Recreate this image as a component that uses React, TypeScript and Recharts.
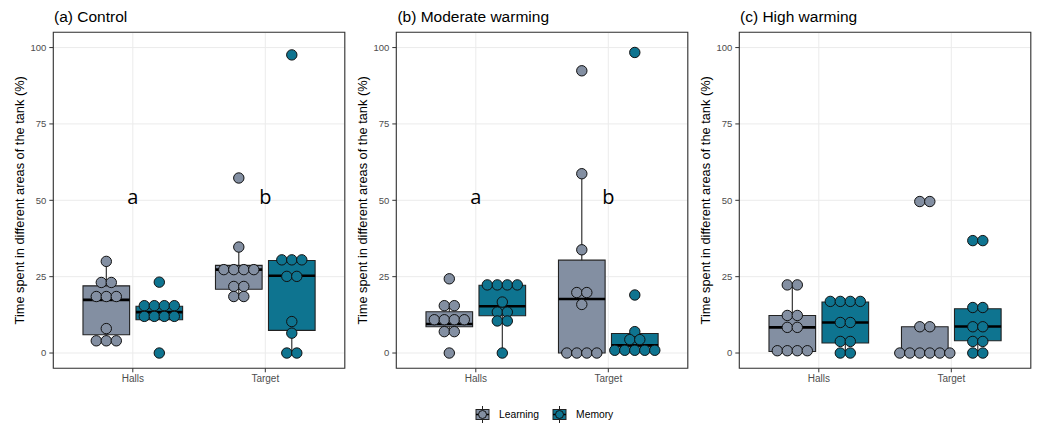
import React from "react";
import {
  ComposedChart,
  Scatter,
  XAxis,
  YAxis,
  CartesianGrid,
  ReferenceArea,
  ReferenceLine,
  ReferenceDot,
} from "recharts";

const categories = ["Halls", "Target"];
const groups = ["Learning", "Memory"];
const panelTitles = ["(a) Control", "(b) Moderate warming", "(c) High warming"];
const yTicks = [0, 25, 50, 75, 100];
const groupColors = ["#838fa2", "#0e7490"];
const yLabel = "Time spent in different areas of the tank (%)";

// individual fish
const controlHallsLearning = [30, 23.1, 23.1, 18.5, 18.5, 18.5, 8, 4, 4, 4];
const controlHallsMemory = [23.2, 15.5, 15.5, 15.5, 15.5, 12, 12, 12, 12, 0];
const controlTargetLearning = [57.3, 34.7, 27.3, 27.3, 27.3, 27.3, 21.8, 21.8, 18.5, 18.5];
const controlTargetMemory = [97.6, 30.5, 30.5, 30.5, 25.1, 25.1, 10.3, 6.5, 0, 0];

const moderateHallsLearning = [24.3, 15.5, 15.5, 10.9, 10.9, 10.9, 10.9, 7, 7, 0];
const moderateHallsMemory = [22.3, 22.3, 22.3, 22.3, 16.7, 13.4, 13.4, 10.5, 10.5, 0];
const moderateTargetLearning = [92.4, 58.7, 33.8, 19.8, 19.8, 15.9, 0, 0, 0, 0];
const moderateTargetMemory = [98.4, 19, 7, 4.4, 4.4, 0.9, 0.9, 0.9, 0.9, 0.9];

const highHallsLearning = [22.3, 22.3, 12.3, 12.3, 8.4, 8.4, 0.75, 0.75, 0.75, 0.75];
const highHallsMemory = [16.9, 16.9, 16.9, 16.9, 10, 10, 3.8, 3.8, 0, 0];
const highTargetLearning = [49.6, 49.6, 8.6, 8.6, 0, 0, 0, 0, 0, 0];
const highTargetMemory = [36.8, 36.8, 14.9, 14.9, 8.6, 8.6, 3.8, 3.8, 0, 0];

// boxes: [lower whisker, q1, median, q3, upper whisker]
const controlHallsLearningBox = [4, 6, 17.4, 22, 30];
const controlHallsMemoryBox = [10.9, 10.9, 13.4, 15.3, 15.3];
const controlTargetLearningBox = [18.5, 20.9, 27.3, 28.7, 34.7];
const controlTargetMemoryBox = [0, 7.4, 25.3, 30.3, 30.5];

const moderateHallsLearningBox = [7, 8.6, 9.5, 13.5, 15.5];
const moderateHallsMemoryBox = [0, 12.2, 15.3, 22.2, 22.3];
const moderateTargetLearningBox = [0, 0, 17.7, 30.4, 58.7];
const moderateTargetMemoryBox = [0.9, 2.2, 2.5, 6.4, 7];

const highHallsLearningBox = [0.5, 0.5, 8.4, 12.3, 22.3];
const highHallsMemoryBox = [0, 3.3, 10, 16.7, 16.9];
const highTargetLearningBox = [0, 0, 0, 8.6, 8.6];
const highTargetMemoryBox = [0, 4, 8.7, 14.5, 14.9];

// significance letters per panel (Halls, Target)
const panelLetters = [["a", "b"], ["a", "b"], []];
const letterLevel = 51;

// panel -> group -> category
const panelDots = [
  [[controlHallsLearning, controlTargetLearning], [controlHallsMemory, controlTargetMemory]],
  [[moderateHallsLearning, moderateTargetLearning], [moderateHallsMemory, moderateTargetMemory]],
  [[highHallsLearning, highTargetLearning], [highHallsMemory, highTargetMemory]],
];
const panelBoxes = [
  [[controlHallsLearningBox, controlTargetLearningBox], [controlHallsMemoryBox, controlTargetMemoryBox]],
  [[moderateHallsLearningBox, moderateTargetLearningBox], [moderateHallsMemoryBox, moderateTargetMemoryBox]],
  [[highHallsLearningBox, highTargetLearningBox], [highHallsMemoryBox, highTargetMemoryBox]],
];

const DODGE = [-0.2, 0.2];
const HALF_BOX = 0.176;
const DOT_STEP = 0.0755;
const PANEL_LEFT = [0, 343.4, 686];
const FONT = "'Liberation Sans', Arial, sans-serif";

// centred dot-plot stacking of equal values
function stackDots(values: number[], center: number) {
  const counts = new Map<number, number>();
  values.forEach((v) => counts.set(v, (counts.get(v) || 0) + 1));
  const seen = new Map<number, number>();
  return values.map((v) => {
    const n = counts.get(v) || 1;
    const i = seen.get(v) || 0;
    seen.set(v, i + 1);
    return { x: center + (i - (n - 1) / 2) * DOT_STEP, y: v };
  });
}

const YAxisLabel = (props: any) => {
  const { x, y, height } = props.viewBox;
  const cx = x + 20;
  const cy = y + height / 2;
  return (
    <text
      x={cx}
      y={cy}
      transform={`rotate(-90, ${cx}, ${cy})`}
      textAnchor="middle"
      dominantBaseline="central"
      fontSize={12.8}
      fill="#000"
    >
      {yLabel}
    </text>
  );
};

function Panel({ p }: { p: number }) {
  const boxes: any[] = [];
  const whiskers: any[] = [];
  const medians: any[] = [];
  groups.forEach((g, gi) => {
    categories.forEach((c, ci) => {
      const [lo, q1, med, q3, hi] = panelBoxes[p][gi][ci];
      const cx = ci + 1 + DODGE[gi];
      boxes.push(
        <ReferenceArea
          key={`box-${g}-${c}`}
          x1={cx - HALF_BOX}
          x2={cx + HALF_BOX}
          y1={q1}
          y2={q3}
          fill={groupColors[gi]}
          fillOpacity={1}
          stroke="#222"
          strokeWidth={1.1}
        />
      );
      if (hi > q3)
        whiskers.push(
          <ReferenceLine key={`wh-${g}-${c}`} segment={[{ x: cx, y: q3 }, { x: cx, y: hi }]} stroke="#222" strokeWidth={1.1} />
        );
      if (lo < q1)
        whiskers.push(
          <ReferenceLine key={`wl-${g}-${c}`} segment={[{ x: cx, y: lo }, { x: cx, y: q1 }]} stroke="#222" strokeWidth={1.1} />
        );
      medians.push(
        <ReferenceLine
          key={`md-${g}-${c}`}
          segment={[{ x: cx - HALF_BOX, y: med }, { x: cx + HALF_BOX, y: med }]}
          stroke="#000"
          strokeWidth={2.6}
        />
      );
    });
  });

  return (
    <div style={{ position: "absolute", left: PANEL_LEFT[p], top: 0 }}>
      <div
        style={{
          position: "absolute",
          left: 54,
          top: 9,
          fontSize: 15.5,
          lineHeight: "15.5px",
          whiteSpace: "nowrap",
          color: "#000",
        }}
      >
        {panelTitles[p]}
      </div>
      <ComposedChart width={346.5} height={395} margin={{ top: 32.3, right: 1.7, bottom: 0, left: 0 }}>
        <CartesianGrid stroke="#ebebeb" strokeWidth={1} />
        <XAxis
          type="number"
          dataKey="x"
          domain={[0.4, 2.6]}
          ticks={[1, 2]}
          interval={0}
          tickFormatter={(v: number) => categories[v - 1]}
          axisLine={false}
          tickLine={{ stroke: "#333" }}
          tickSize={4}
          tickMargin={3}
          height={26.7}
          tick={{ fontSize: 10, fill: "#4d4d4d" }}
        />
        <YAxis
          type="number"
          dataKey="y"
          domain={[-5, 105]}
          ticks={yTicks}
          interval={0}
          axisLine={false}
          tickLine={{ stroke: "#333" }}
          tickSize={4}
          tickMargin={3}
          width={53.3}
          tick={{ fontSize: 9.5, fill: "#4d4d4d" }}
          label={<YAxisLabel />}
        />
        <ReferenceArea x1={0.4} x2={2.6} y1={-5} y2={105} fill="none" stroke="#333" strokeWidth={1.1} />
        {boxes}
        {whiskers}
        {medians}
        {groups.map((g, gi) => (
          <Scatter
            key={g}
            name={g}
            data={categories.flatMap((c, ci) => stackDots(panelDots[p][gi][ci], ci + 1 + DODGE[gi]))}
            isAnimationActive={false}
            shape={(s: any) => (
              <circle cx={s.cx} cy={s.cy} r={5.2} fill={groupColors[gi]} stroke="#111" strokeWidth={1} />
            )}
          />
        ))}
        {panelLetters[p].map((l, ci) => (
          <ReferenceDot
            key={l + ci}
            x={ci + 1}
            y={letterLevel}
            r={1}
            fill="none"
            stroke="none"
            label={{ value: l, position: "center", fontSize: 20, fill: "#000", fontFamily: "'Open Sans', sans-serif" }}
          />
        ))}
      </ComposedChart>
    </div>
  );
}

function LegendIcon({ color }: { color: string }) {
  return (
    <svg width={17} height={17} style={{ display: "block" }}>
      <line x1={8.5} y1={0} x2={8.5} y2={17} stroke="#222" strokeWidth={1} />
      <rect x={2} y={3.5} width={13} height={10} fill={color} stroke="#222" strokeWidth={1} />
      <line x1={2} y1={8.5} x2={15} y2={8.5} stroke="#000" strokeWidth={1.5} />
      <circle cx={8.5} cy={8.5} r={4} fill={color} stroke="#111" strokeWidth={1} />
    </svg>
  );
}

export default function App() {
  return (
    <div
      style={{
        position: "absolute",
        left: 0,
        top: 0,
        width: 1037,
        height: 423,
        background: "#fff",
        fontFamily: FONT,
        overflow: "hidden",
      }}
    >
      {panelTitles.map((_, p) => (
        <Panel key={p} p={p} />
      ))}
      <div
        style={{
          position: "absolute",
          left: 474,
          top: 406,
          display: "flex",
          alignItems: "center",
          fontSize: 10.3,
          color: "#000",
        }}
      >
        {groups.map((g, gi) => (
          <div key={g} style={{ display: "flex", alignItems: "center", marginRight: 12 }}>
            <LegendIcon color={groupColors[gi]} />
            <span style={{ marginLeft: 8 }}>{g}</span>
          </div>
        ))}
      </div>
    </div>
  );
}
